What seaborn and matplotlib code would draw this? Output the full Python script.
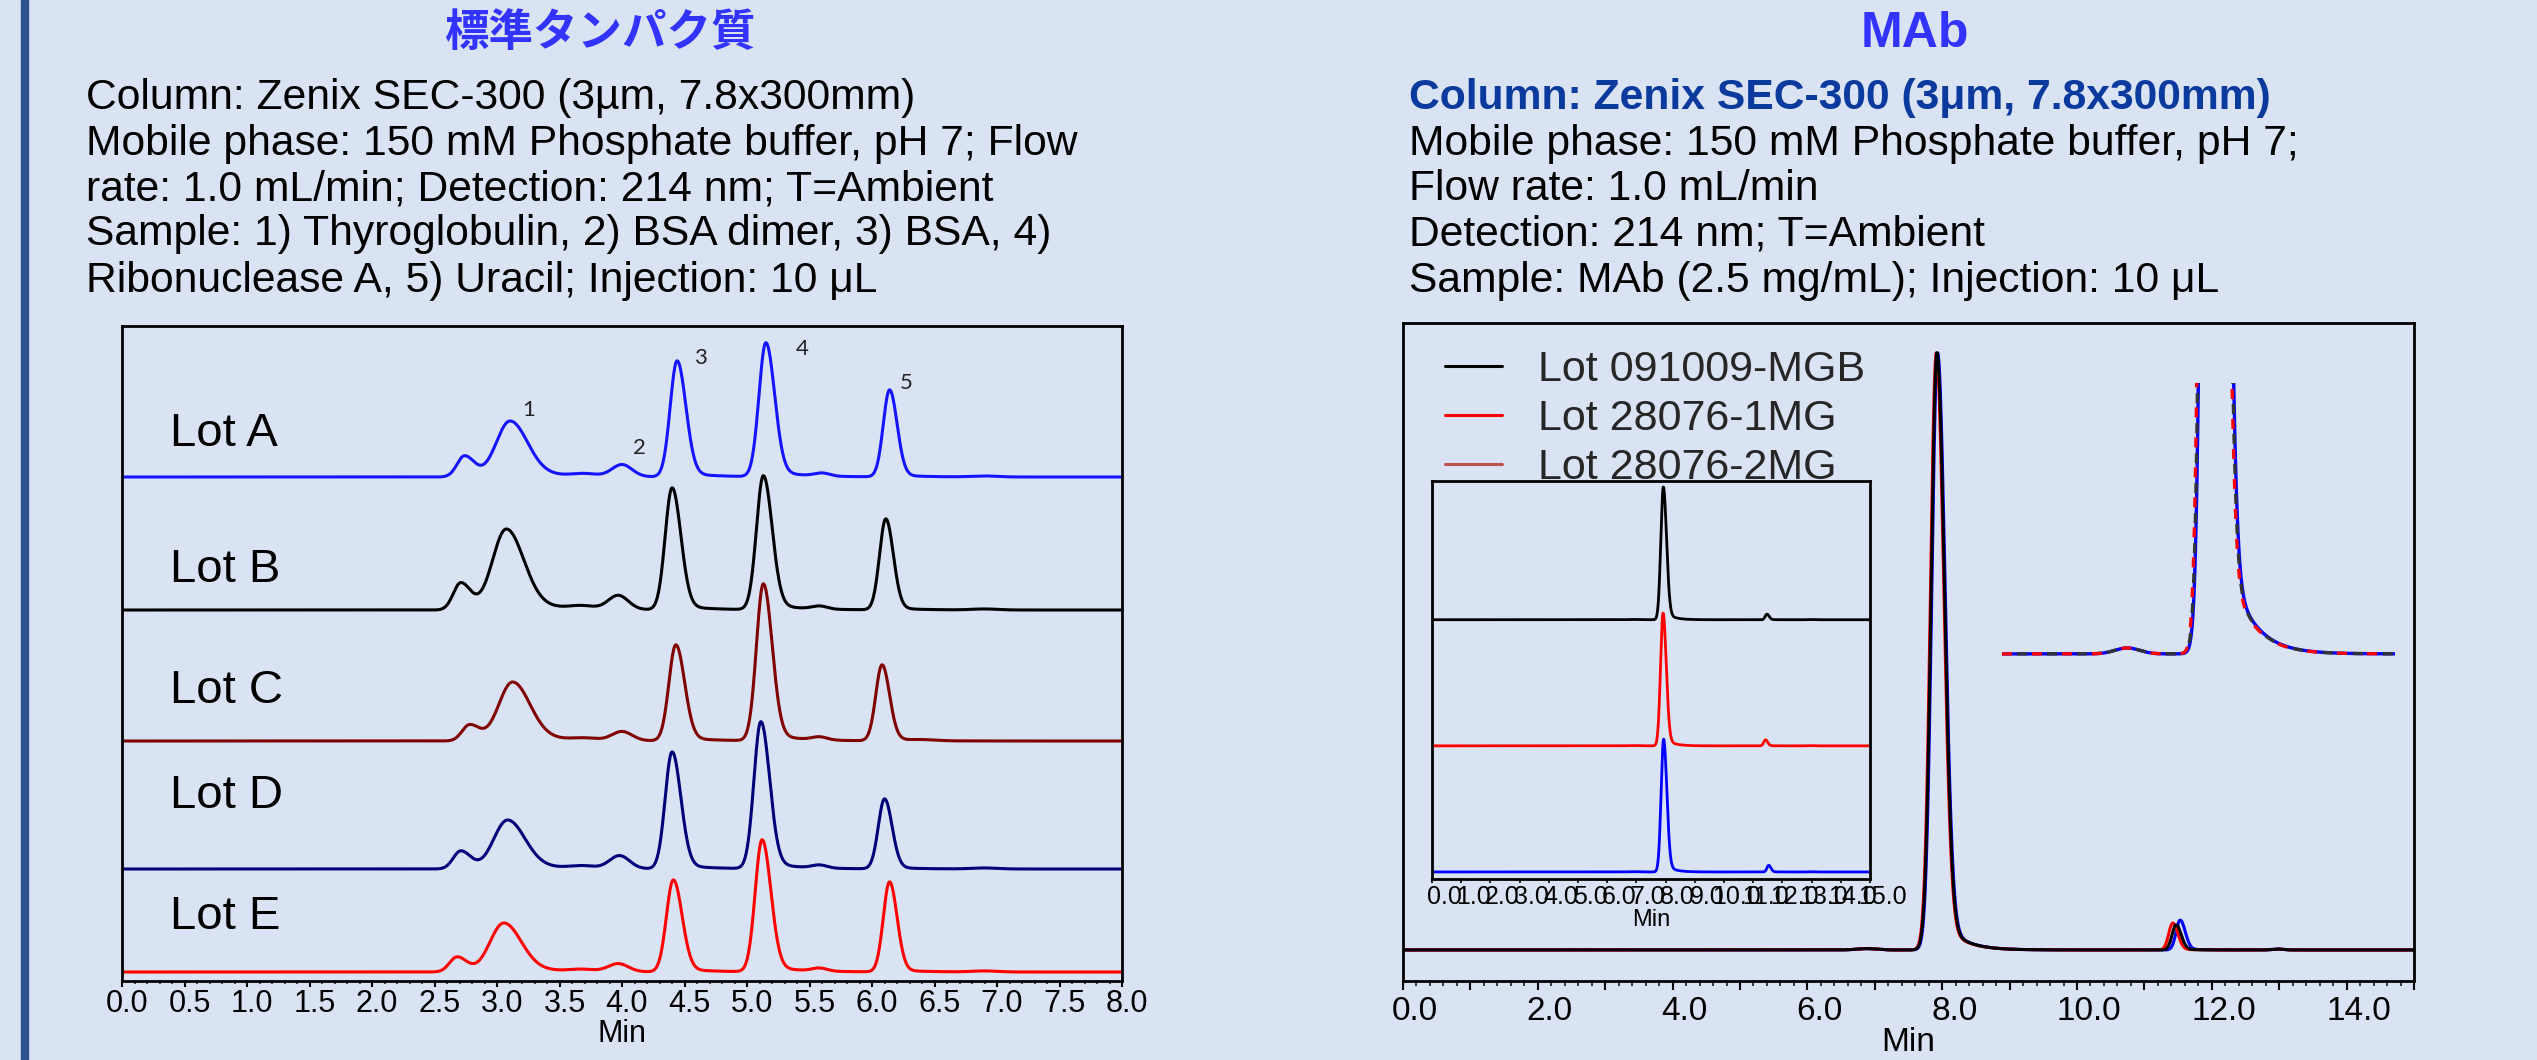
import numpy as np
import pandas as pd
import matplotlib
matplotlib.use('Agg')
import matplotlib.pyplot as plt
import seaborn as sns
from matplotlib.lines import Line2D
from matplotlib.patches import Rectangle
from matplotlib.ticker import MultipleLocator, FuncFormatter
from matplotlib.transforms import ScaledTranslation

sns.set_theme(style='white')
plt.rcParams['font.family'] = ['Liberation Sans', 'DejaVu Sans']

BG = '#DAE3F3'
W, H = 2537, 1060

# ---------------- DATA: left panel (standard proteins) ----------------
lots = ['Lot A', 'Lot B', 'Lot C', 'Lot D', 'Lot E']
# peaks: shoulder, 1) Thyroglobulin, hump, 2) BSA dimer, 3) BSA, 4) RNase A, hump, 5) Uracil, hump
lotA_rt = [2.74, 3.10, 3.70, 4.00, 4.44, 5.15, 5.60, 6.14, 6.90]
lotB_rt = [2.71, 3.07, 3.68, 3.97, 4.40, 5.13, 5.58, 6.11, 6.90]
lotC_rt = [2.78, 3.12, 3.70, 4.00, 4.43, 5.13, 5.58, 6.08, 6.40]
lotD_rt = [2.71, 3.08, 3.68, 3.98, 4.40, 5.11, 5.58, 6.10, 6.90]
lotE_rt = [2.68, 3.05, 3.68, 3.97, 4.41, 5.12, 5.58, 6.14, 6.90]
lotA_h = [21, 56, 2.5, 12, 116, 134, 3, 87, 1]
lotB_h = [27, 81, 3.0, 14, 122, 134, 3, 91, 1]
lotC_h = [16, 59, 2.0, 9, 96, 157, 3, 76, 1]
lotD_h = [18, 49, 2.5, 13, 117, 147, 3, 70, 1]
lotE_h = [15, 49, 2.0, 8, 92, 132, 3, 90, 1]
std_sig_l = [0.06, 0.11, 0.10, 0.08, 0.055, 0.055, 0.06, 0.05, 0.10]
std_sig_r = [0.08, 0.14, 0.10, 0.08, 0.07, 0.07, 0.06, 0.06, 0.10]
std_tail_a = [0.0, 0.12, 0.0, 0.0, 0.04, 0.05, 0.0, 0.03, 0.0]
std_tail_tau = [0.3, 0.35, 0.3, 0.3, 0.25, 0.25, 0.3, 0.2, 0.3]
peak_labels = ['1', '2', '3', '4', '5']
peak_label_x = [3.20, 4.09, 4.58, 5.39, 6.22]
peak_label_y = [571, 533, 623, 632, 598]

# ---------------- DATA: right panel (MAb) ----------------
mab_lots = ['Lot 091009-MGB', 'Lot 28076-1MG', 'Lot 28076-2MG']
mab_rt = {  # main peak, fragment, small humps
    'Lot 091009-MGB': [7.92, 11.47, 6.88, 12.98],
    'Lot 28076-1MG': [7.91, 11.42, 6.88, 12.98],
    'Lot 28076-2MG': [7.93, 11.53, 6.88, 12.98],
}
mab_h = {
    'Lot 091009-MGB': [1.0, 0.042, 0.0022, 0.0015],
    'Lot 28076-1MG': [1.0, 0.045, 0.0022, 0.0015],
    'Lot 28076-2MG': [1.0, 0.050, 0.0022, 0.0015],
}
mab_sig_l = [0.085, 0.06, 0.15, 0.08]
mab_sig_r = [0.11, 0.075, 0.15, 0.08]
mab_tail_a = [0.07, 0.05, 0.0, 0.0]
mab_tail_tau = [0.28, 0.2, 0.3, 0.3]

# ---------------- styles ----------------
lot_colors = ['#1414FF', '#000000', '#800000', '#00007A', '#FF0000']
lot_offsets = [504, 371, 240, 112, 9]
lot_label_y = [547, 411, 290, 185, 64]
mab_trace_colors = {'Lot 091009-MGB': '#000000', 'Lot 28076-1MG': '#FF0000', 'Lot 28076-2MG': '#0000FF'}
mab_legend_colors = ['#000000', '#FF0000', '#C0504D']
inset_offsets = {'Lot 091009-MGB': 1.9, 'Lot 28076-1MG': 0.95, 'Lot 28076-2MG': 0.0}


def peak_shape(t, rt, sl, sr, a, tau):
    d = t - rt
    core = np.where(d < 0, np.exp(-d ** 2 / (2 * sl ** 2)), np.exp(-d ** 2 / (2 * sr ** 2)))
    tail = a * np.exp(-np.clip(d, 0, None) / tau) / (1 + np.exp(-np.clip(d / (0.5 * sr), -50, 50)))
    s = core + tail
    return s / s.max()


def trace(t, rts, hs, sl, sr, a, tau):
    y = np.zeros_like(t)
    for i in range(len(rts)):
        y += hs[i] * peak_shape(t, rts[i], sl[i], sr[i], a[i], tau[i])
    return y


def fx(px):
    return px / W


def fy(py):
    return 1 - py / H


fig = plt.figure(figsize=(W / 100, H / 100), dpi=100, facecolor=BG)
fig.patches.append(Rectangle((fx(21), 0), fx(7), 1, transform=fig.transFigure,
                             color='#2F528F', zorder=0))


def shift_labels(ax, dx_px):
    for t in ax.xaxis.get_major_ticks():
        t.label1.set_transform(t.label1.get_transform() +
                               ScaledTranslation(dx_px / 100, 0, fig.dpi_scale_trans))


# ---------------- header texts ----------------
fig.text(fx(600), fy(33), '標準タンパク質', ha='center', va='center', fontsize=32,
         fontweight='bold', color='#3333FF', family=['Noto Sans CJK JP', 'DejaVu Sans'])
fig.text(fx(1915), fy(34), 'MAb', ha='center', va='center', fontsize=36,
         fontweight='bold', color='#3333FF')
left_lines = ['Column: Zenix SEC-300 (3µm, 7.8x300mm)',
              'Mobile phase: 150 mM Phosphate buffer, pH 7; Flow',
              'rate: 1.0 mL/min; Detection: 214 nm; T=Ambient',
              'Sample: 1) Thyroglobulin, 2) BSA dimer, 3) BSA, 4)',
              'Ribonuclease A, 5) Uracil; Injection: 10 μL']
right_lines = ['Column: Zenix SEC-300 (3μm, 7.8x300mm)',
               'Mobile phase: 150 mM Phosphate buffer, pH 7;',
               'Flow rate: 1.0 mL/min',
               'Detection: 214 nm; T=Ambient',
               'Sample: MAb (2.5 mg/mL); Injection: 10 μL']
line_y = [98, 144, 189, 234, 281]
for i, s in enumerate(left_lines):
    fig.text(fx(86), fy(line_y[i]), s, ha='left', va='center', fontsize=30.7, color='black')
for i, s in enumerate(right_lines):
    if i == 0:
        fig.text(fx(1409), fy(line_y[i]), s, ha='left', va='center', fontsize=30.7,
                 color='#0A3A9E', fontweight='bold')
    else:
        fig.text(fx(1409), fy(line_y[i]), s, ha='left', va='center', fontsize=30.7, color='black')

# ---------------- left panel ----------------
axL = fig.add_axes([fx(122), fy(981), fx(1122) - fx(122), fy(326) - fy(981)])
axL.set_facecolor(BG)
tL = np.linspace(0, 8, 4001)
rts = [lotA_rt, lotB_rt, lotC_rt, lotD_rt, lotE_rt]
hs = [lotA_h, lotB_h, lotC_h, lotD_h, lotE_h]
frames = []
for i, lot in enumerate(lots):
    y = trace(tL, rts[i], hs[i], std_sig_l, std_sig_r, std_tail_a, std_tail_tau) + lot_offsets[i]
    frames.append(pd.DataFrame({'Min': tL, 'signal': y, 'lot': lot}))
dfL = pd.concat(frames, ignore_index=True)
sns.lineplot(data=dfL, x='Min', y='signal', hue='lot', hue_order=lots,
             palette=dict(zip(lots, lot_colors)), estimator=None, sort=False,
             legend=False, linewidth=2.2, ax=axL)
axL.set_xlim(0, 8)
axL.set_ylim(0, 655)
axL.set_yticks([])
axL.set_ylabel('')
axL.xaxis.set_major_locator(MultipleLocator(0.5))
axL.xaxis.set_minor_locator(MultipleLocator(0.1))
axL.xaxis.set_major_formatter(FuncFormatter(lambda v, p: f'{v:.1f}'))
axL.tick_params(axis='x', which='major', direction='out', length=4, width=1.5,
                labelsize=22, pad=2, colors='black', bottom=True)
axL.tick_params(axis='x', which='minor', direction='out', length=2.5, width=1.2, bottom=True)
axL.set_xlabel('Min', fontsize=22, labelpad=0, color='black')
shift_labels(axL, 5)
for s in axL.spines.values():
    s.set_linewidth(2.0)
    s.set_color('black')
for i, lot in enumerate(lots):
    axL.text(0.38, lot_label_y[i], lot, fontsize=34, ha='left', va='center', color='black')
for i, lab in enumerate(peak_labels):
    axL.text(peak_label_x[i], peak_label_y[i], lab, fontsize=16, ha='left', va='center',
             color='#222222', family=['Lato', 'DejaVu Sans'])

# ---------------- right panel ----------------
tR = np.linspace(0, 15, 6001)
framesR = []
for lot in mab_lots:
    y = trace(tR, mab_rt[lot], mab_h[lot], mab_sig_l, mab_sig_r, mab_tail_a, mab_tail_tau)
    framesR.append(pd.DataFrame({'Min': tR, 'signal': y, 'lot': lot,
                                 'inset': y + inset_offsets[lot]}))
dfR = pd.concat(framesR, ignore_index=True)
draw_order = ['Lot 28076-2MG', 'Lot 28076-1MG', 'Lot 091009-MGB']

axR = fig.add_axes([fx(1403), fy(981), fx(2414) - fx(1403), fy(323) - fy(981)])
axR.set_facecolor(BG)
sns.lineplot(data=dfR, x='Min', y='signal', hue='lot', hue_order=draw_order,
             palette=mab_trace_colors, estimator=None, sort=False, legend=False,
             linewidth=2.2, ax=axR)
axR.set_xlim(0, 15)
axR.set_ylim(-0.052, 1.05)
axR.set_yticks([])
axR.set_ylabel('')
axR.xaxis.set_major_locator(MultipleLocator(1.0))
axR.xaxis.set_minor_locator(MultipleLocator(0.2))
axR.xaxis.set_major_formatter(FuncFormatter(lambda v, p: f'{v:.1f}' if round(v) % 2 == 0 else ''))
axR.tick_params(axis='x', which='major', direction='out', length=6.5, width=1.5,
                labelsize=24, pad=4, colors='black', bottom=True)
axR.tick_params(axis='x', which='minor', direction='out', length=3.6, width=1.3, bottom=True)
axR.set_xlabel('Min', fontsize=24, labelpad=0, color='black')
shift_labels(axR, 12)
for s in axR.spines.values():
    s.set_linewidth(2.0)
    s.set_color('black')

handles = [Line2D([], [], color=c, linewidth=2.2) for c in mab_legend_colors]
axR.legend(handles, mab_lots, loc='upper left', bbox_to_anchor=(fx(1445), fy(350)),
           bbox_transform=fig.transFigure, frameon=False, fontsize=31,
           handlelength=1.33, handletextpad=0.84, labelspacing=0.21,
           borderpad=0, borderaxespad=0)

# inset: stacked overview
axI = fig.add_axes([fx(1432), fy(879), fx(1870) - fx(1432), fy(481) - fy(879)])
axI.set_facecolor(BG)
sns.lineplot(data=dfR, x='Min', y='inset', hue='lot', hue_order=draw_order,
             palette=mab_trace_colors, estimator=None, sort=False, legend=False,
             linewidth=2.0, ax=axI)
axI.set_xlim(0, 15)
axI.set_ylim(-0.053, 2.945)
axI.set_yticks([])
axI.set_ylabel('')
axI.xaxis.set_major_locator(MultipleLocator(1.0))
axI.xaxis.set_major_formatter(FuncFormatter(lambda v, p: f'{v:.1f}'))
axI.tick_params(axis='x', which='major', direction='out', length=3, width=1.2,
                labelsize=18, pad=1.5, colors='black', bottom=True)
axI.set_xlabel('Min', fontsize=17, labelpad=0, color='black')
shift_labels(axI, 12)
for s in axI.spines.values():
    s.set_linewidth(2.0)
    s.set_color('black')

# overlay: magnified base of main peak
axZ = fig.add_axes([fx(2002), fy(665), fx(2395) - fx(2002), fy(383) - fy(665)])
axZ.set_facecolor('none')
dfZ = dfR[(dfR['Min'] >= 5.35) & (dfR['Min'] <= 10.15)]
sns.lineplot(data=dfZ, x='Min', y='signal', hue='lot', hue_order=draw_order,
             palette=mab_trace_colors, estimator=None, sort=False, legend=False,
             linewidth=2.4, ax=axZ)
axZ.set_xlim(5.35, 10.15)
axZ.set_ylim(-0.0041, 0.1)
for k, ln in enumerate(axZ.lines):
    if k == 1:
        ln.set_linestyle((0, (3, 6)))
    elif k == 2:
        ln.set_color('#333333')
        ln.set_linestyle((4.5, (3, 6)))
axZ.axis('off')

fig.savefig('out.png', dpi=100, facecolor=BG)
